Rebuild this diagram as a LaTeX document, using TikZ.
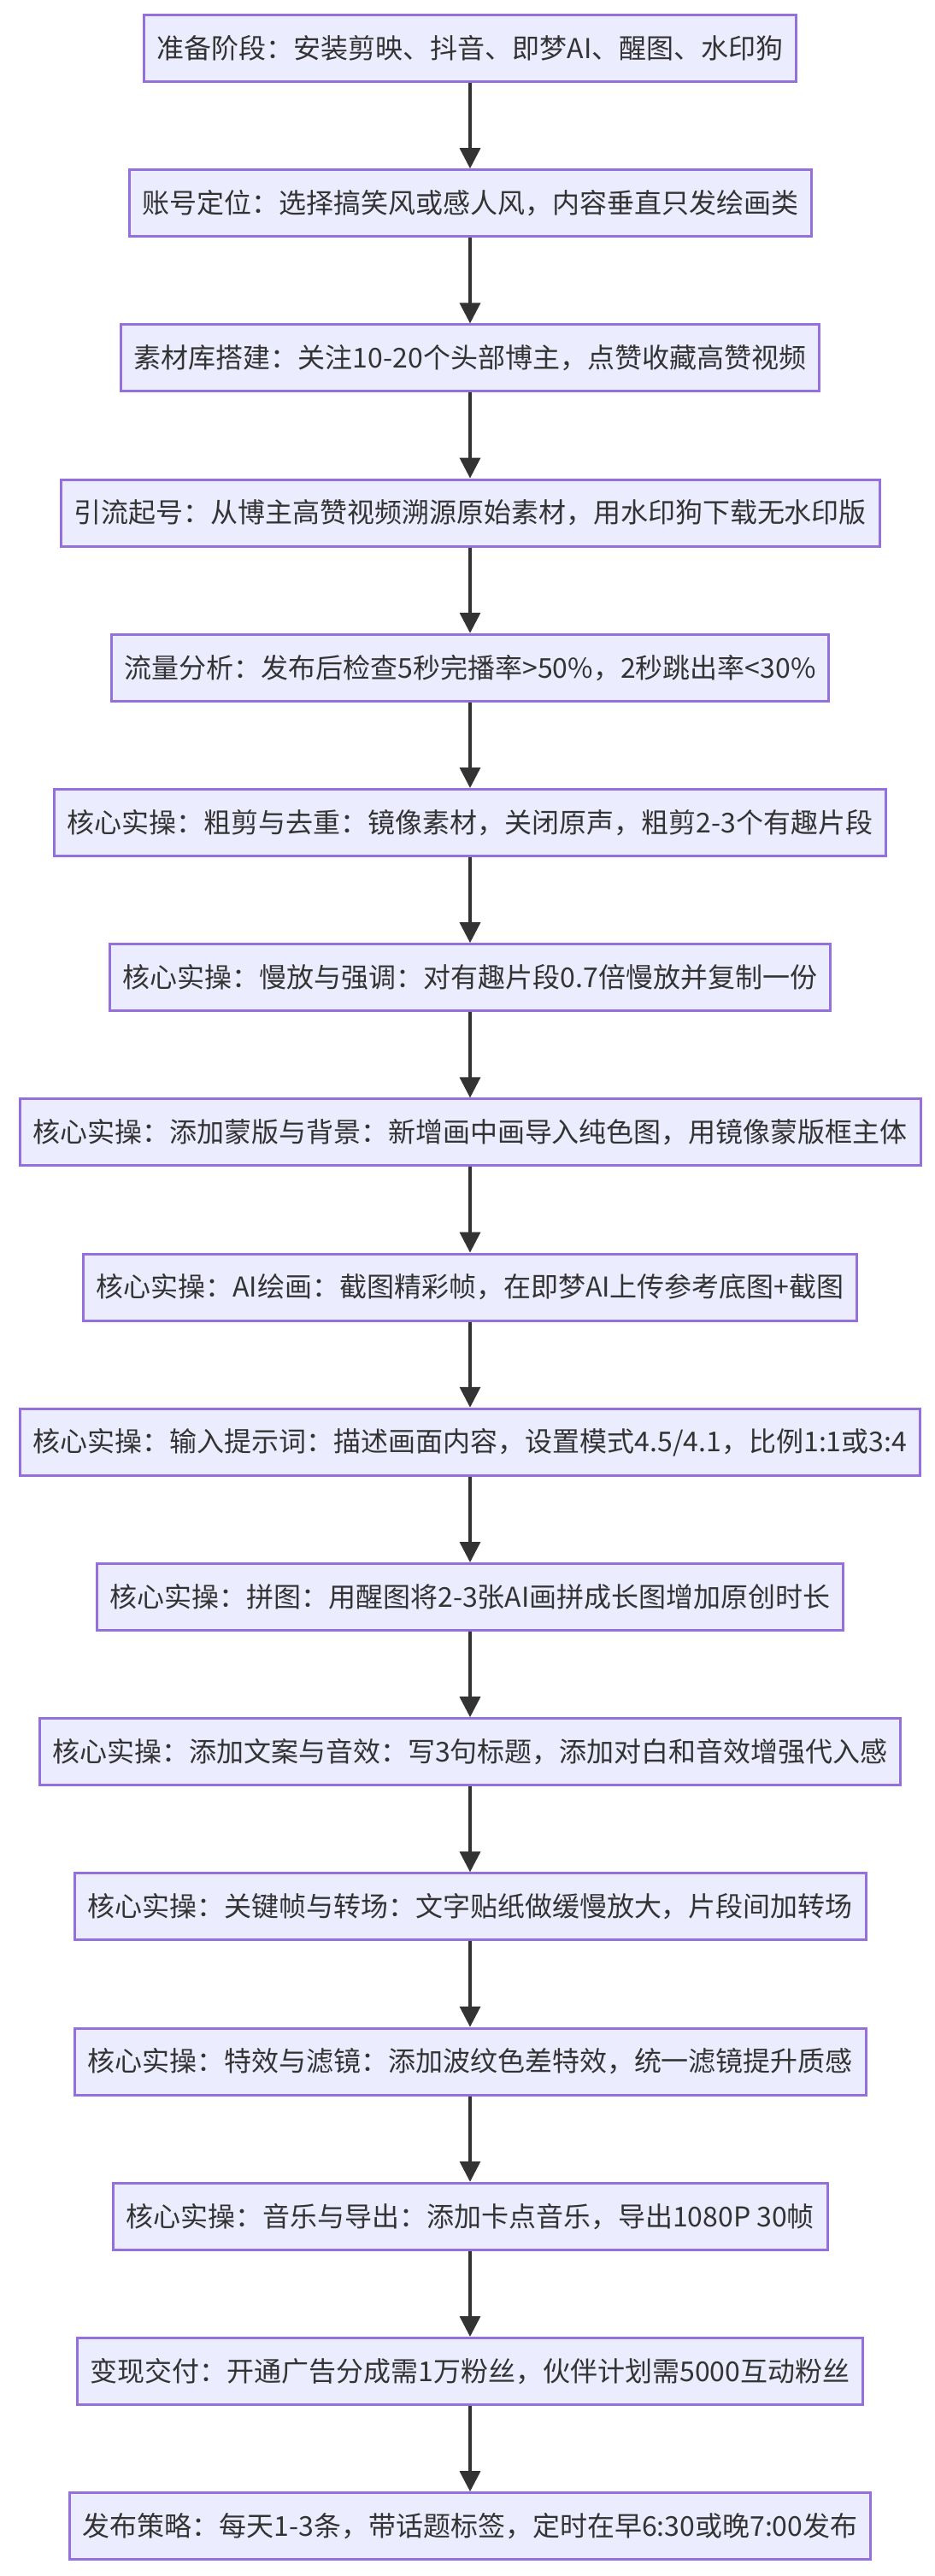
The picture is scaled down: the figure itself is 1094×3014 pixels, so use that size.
\documentclass[tikz,border=0pt]{standalone}
\usepackage{fontspec}
\newfontfamily\cjkfont{Noto Sans CJK SC}
\usepackage{tikz}
\usetikzlibrary{arrows.meta, positioning}
\definecolor{boxfill}{HTML}{ECECFF}
\definecolor{boxline}{HTML}{9370DB}
\definecolor{inkgray}{HTML}{333333}
\tikzset{
  stagebox/.style={
    draw=boxline, fill=boxfill,   % mermaid look
    line width=3pt,
    text=inkgray,
    font=\cjkfont\fontsize{32}{38}\selectfont,
    inner xsep=15pt,
    minimum height=78pt,
  },
  flowarrow/.style={
    draw=inkgray, line width=3.5pt,
    -{Triangle[length=24pt, width=24pt]},
  }
}

\begin{document}
\begin{tikzpicture}[node distance=100.2pt]
    % page frame
    \useasboundingbox (0,0) rectangle (1094pt,-3014pt);

    % the stages, top to bottom
    \node[stagebox] (prep) at (550pt,-56.5pt) {准备阶段：安装剪映、抖音、即梦AI、醒图、水印狗};
    \node[stagebox, below=of prep] (account) {账号定位：选择搞笑风或感人风，内容垂直只发绘画类};
    \node[stagebox, below=of account] (library) {素材库搭建：关注10-20个头部博主，点赞收藏高赞视频};
    \node[stagebox, below=of library] (traffic) {引流起号：从博主高赞视频溯源原始素材，用水印狗下载无水印版};
    \node[stagebox, below=of traffic] (analysis) {流量分析：发布后检查5秒完播率>50\%，2秒跳出率<30\%};
    \node[stagebox, below=of analysis] (roughcut) {核心实操：粗剪与去重：镜像素材，关闭原声，粗剪2-3个有趣片段};
    \node[stagebox, below=of roughcut] (slowmo) {核心实操：慢放与强调：对有趣片段0.7倍慢放并复制一份};
    \node[stagebox, below=of slowmo] (mask) {核心实操：添加蒙版与背景：新增画中画导入纯色图，用镜像蒙版框主体};
    \node[stagebox, below=of mask] (aidraw) {核心实操：AI绘画：截图精彩帧，在即梦AI上传参考底图+截图};
    \node[stagebox, below=of aidraw] (prompt) {核心实操：输入提示词：描述画面内容，设置模式4.5/4.1，比例1:1或3:4};
    \node[stagebox, below=of prompt] (collage) {核心实操：拼图：用醒图将2-3张AI画拼成长图增加原创时长};
    \node[stagebox, below=of collage] (caption) {核心实操：添加文案与音效：写3句标题，添加对白和音效增强代入感};
    \node[stagebox, below=of caption] (keyframe) {核心实操：关键帧与转场：文字贴纸做缓慢放大，片段间加转场};
    \node[stagebox, below=of keyframe] (effects) {核心实操：特效与滤镜：添加波纹色差特效，统一滤镜提升质感};
    \node[stagebox, below=of effects] (export) {核心实操：音乐与导出：添加卡点音乐，导出1080P 30帧};
    \node[stagebox, below=of export] (monetize) {变现交付：开通广告分成需1万粉丝，伙伴计划需5000互动粉丝};
    \node[stagebox, below=of monetize] (publish) {发布策略：每天1-3条，带话题标签，定时在早6:30或晚7:00发布};

    % arrows between stages
    \draw[flowarrow] (prep) -- (account);
    \draw[flowarrow] (account) -- (library);
    \draw[flowarrow] (library) -- (traffic);
    \draw[flowarrow] (traffic) -- (analysis);
    \draw[flowarrow] (analysis) -- (roughcut);
    \draw[flowarrow] (roughcut) -- (slowmo);
    \draw[flowarrow] (slowmo) -- (mask);
    \draw[flowarrow] (mask) -- (aidraw);
    \draw[flowarrow] (aidraw) -- (prompt);
    \draw[flowarrow] (prompt) -- (collage);
    \draw[flowarrow] (collage) -- (caption);
    \draw[flowarrow] (caption) -- (keyframe);
    \draw[flowarrow] (keyframe) -- (effects);
    \draw[flowarrow] (effects) -- (export);
    \draw[flowarrow] (export) -- (monetize);
    \draw[flowarrow] (monetize) -- (publish);
\end{tikzpicture}
\end{document}
